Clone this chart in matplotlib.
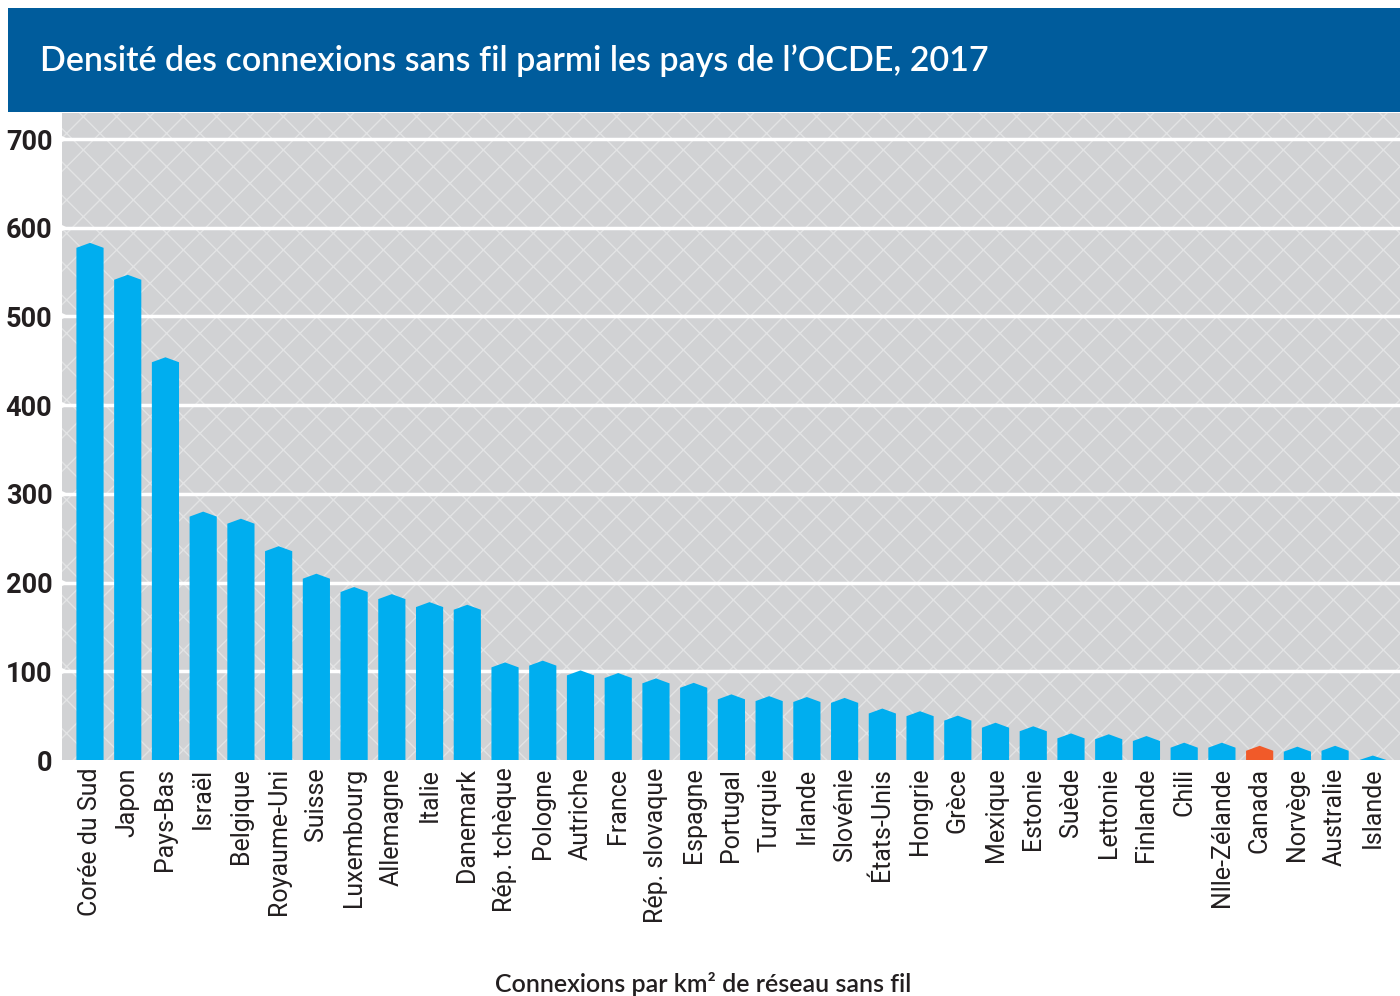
import matplotlib
matplotlib.use("Agg")
import matplotlib.pyplot as plt
from matplotlib.patches import Polygon, Rectangle
import matplotlib.transforms as mtransforms

countries = ["Corée du Sud", "Japon", "Pays-Bas", "Israël", "Belgique", "Royaume-Uni",
             "Suisse", "Luxembourg", "Allemagne", "Italie", "Danemark", "Rép. tchèque",
             "Pologne", "Autriche", "France", "Rép. slovaque", "Espagne", "Portugal",
             "Turquie", "Irlande", "Slovénie", "États-Unis", "Hongrie", "Grèce",
             "Mexique", "Estonie", "Suède", "Lettonie", "Finlande", "Chili",
             "Nlle-Zélande", "Canada", "Norvège", "Australie", "Islande"]
density = [583, 547, 454, 280, 272, 241, 210, 195, 187, 178, 175, 110,
           112, 101, 98, 92, 87, 74, 72, 71, 70, 58, 55, 50,
           42, 38, 30, 29, 27, 19.5, 19.5, 16, 15, 16, 5]
highlight = "Canada"

title = "Densité des connexions sans fil parmi les pays de l\u2019OCDE, 2017"
xlabel = "Connexions par km\u00b2 de réseau sans fil"
yticks = [0, 100, 200, 300, 400, 500, 600, 700]

BLUE = "#00aeef"
ORANGE = "#f15a29"
NAVY = "#005c9c"
GREY = "#d1d2d4"
TEXT = "#231f20"

W, H = 1400, 996
fig = plt.figure(figsize=(W / 100, H / 100), dpi=100)
fig.patch.set_facecolor("white")

# title band
band = Rectangle((8 / W, 1 - 112 / H), 1 - 8 / W, 104 / H, transform=fig.transFigure,
                 facecolor=NAVY, edgecolor="none")
fig.patches.append(band)
fig.text(40 / W, 1 - 61 / H, title, color="white", fontsize=24.5, fontweight="semibold",
         family="Lato", va="center", ha="left")

ax = fig.add_axes([62 / W, 1 - 760 / H, 1 - 62 / W, (760 - 113) / H])
ax.set_xlim(-0.742, 34.72)
ax.set_ylim(0, 729.4)
ax.patch.set_visible(False)
for s in ax.spines.values():
    s.set_visible(False)

# hatched grey background
plt.rcParams["hatch.linewidth"] = 1.0
bg = Rectangle((0, 0), 1, 1, transform=ax.transAxes, facecolor=GREY,
               edgecolor="#e2e3e4", hatch="x", linewidth=0, zorder=0)
ax.add_patch(bg)

# white grid lines with a small notch at the left edge
for v in yticks[1:]:
    ax.axhline(v, color="white", lw=2.5, zorder=1)
trans = mtransforms.blended_transform_factory(ax.transAxes, ax.transData)
ax.plot([0] * (len(yticks) - 1), yticks[1:], ">", color="white", markersize=9,
        markeredgewidth=0, transform=trans, clip_on=False, zorder=2)

# bars with pointed tops
bw = 0.36
bevel = 5.6
for i, (name, v) in enumerate(zip(countries, density)):
    c = ORANGE if name == highlight else BLUE
    shoulder = max(v - bevel, 0)
    pts = [(i - bw, 0), (i - bw, shoulder), (i, v), (i + bw, shoulder), (i + bw, 0)]
    ax.add_patch(Polygon(pts, closed=True, facecolor=c, edgecolor="none", zorder=3))

ax.set_yticks(yticks)
ax.set_yticklabels([str(t) for t in yticks], fontsize=19.5, fontweight="bold",
                   family="Roboto", color=TEXT)
ax.set_xticks(range(len(countries)))
ax.set_xticklabels(countries, rotation=90, fontsize=18, family="Roboto",
                   color=TEXT, va="top", ha="center")
ax.tick_params(axis="y", length=0, pad=7)
ax.tick_params(axis="x", length=0, pad=5.5)

fig.text(703 / W, 1 - 984 / H, xlabel, ha="center", va="center", fontsize=18,
         fontweight="semibold", family="Lato", color=TEXT)

fig.savefig("out.png", dpi=100)
